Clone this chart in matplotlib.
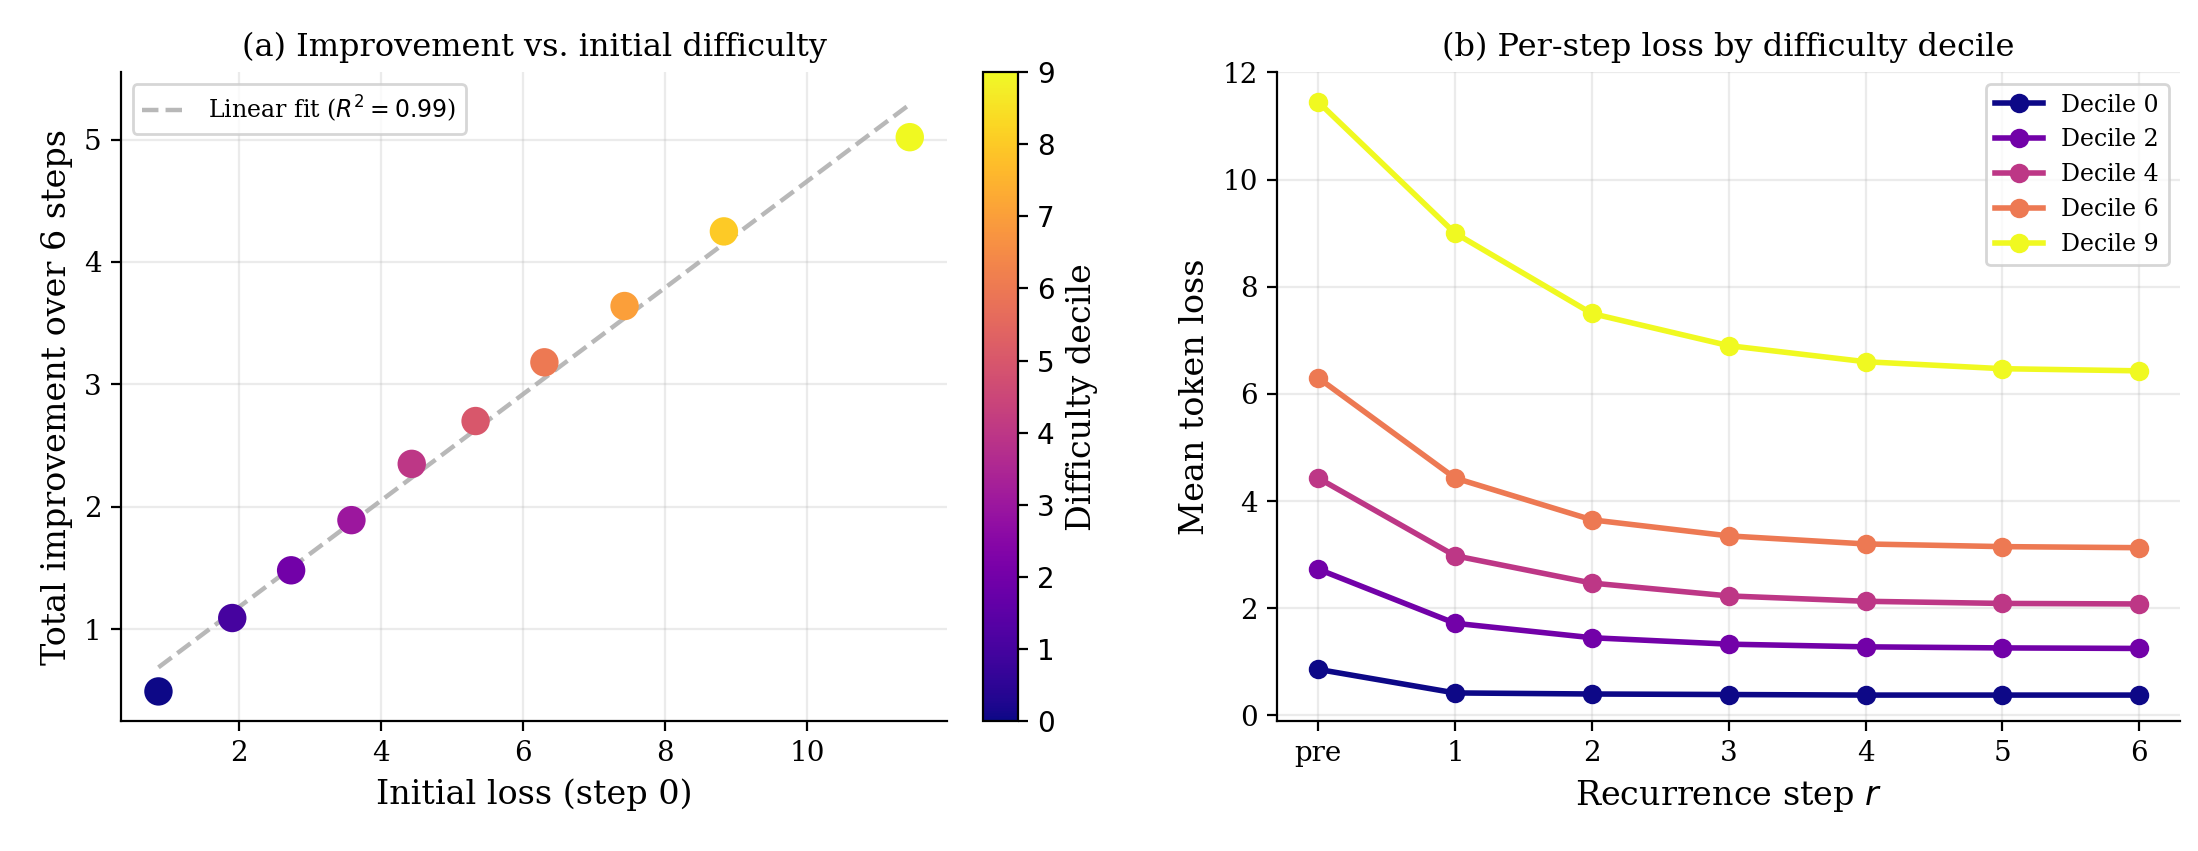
import matplotlib.pyplot as plt
import numpy as np

plt.rcParams['font.family'] = 'DejaVu Serif'
plt.rcParams['mathtext.fontset'] = 'dejavusans'
plt.rcParams['xtick.labelsize'] = 10
plt.rcParams['ytick.labelsize'] = 10

# (a) decile data
deciles = np.arange(10)
init_loss = [0.86, 1.90, 2.73, 3.58, 4.43, 5.33, 6.30, 7.43, 8.83, 11.45]
improvement = [0.49, 1.09, 1.48, 1.89, 2.35, 2.70, 3.18, 3.64, 4.25, 5.02]

# (b) per-step loss
steps = ['pre', '1', '2', '3', '4', '5', '6']
loss_by_decile = {
    0: [0.86, 0.42, 0.40, 0.39, 0.38, 0.38, 0.38],
    2: [2.73, 1.72, 1.45, 1.33, 1.28, 1.26, 1.25],
    4: [4.43, 2.98, 2.47, 2.23, 2.13, 2.09, 2.08],
    6: [6.30, 4.43, 3.65, 3.35, 3.20, 3.15, 3.13],
    9: [11.45, 9.00, 7.50, 6.90, 6.60, 6.47, 6.43],
}

fig = plt.figure(figsize=(10.99, 4.255), dpi=200)
ax1 = fig.add_axes([0.055, 0.153, 0.376, 0.762])
cax = fig.add_axes([0.447, 0.153, 0.016, 0.762])
ax2 = fig.add_axes([0.581, 0.153, 0.411, 0.762])
cmap = plt.get_cmap('plasma')

# Panel (a)
slope, icpt = np.polyfit(init_loss, improvement, 1)
xs = np.array([min(init_loss), max(init_loss)])
ax1.plot(xs, slope * xs + icpt, '--', color='#b8b8b8', lw=1.6, label=r'Linear fit ($R^2=0.99$)', zorder=1)
sc = ax1.scatter(init_loss, improvement, c=deciles, cmap=cmap, vmin=0, vmax=9, s=85, zorder=2)
cb = fig.colorbar(sc, cax=cax)
cb.set_label('Difficulty decile', fontsize=12)
cb.set_ticks(range(10))
for t in cb.ax.get_yticklabels():
    t.set_family('DejaVu Sans')
ax1.set_title('(a) Improvement vs. initial difficulty', fontsize=11.5)
ax1.set_xlabel('Initial loss (step 0)', fontsize=12)
ax1.set_ylabel('Total improvement over 6 steps', fontsize=12)
ax1.set_xticks([2, 4, 6, 8, 10])
ax1.set_yticks([1, 2, 3, 4, 5])
ax1.set_ylim(0.25, 5.55)
ax1.grid(True, alpha=0.25)
ax1.legend(loc='upper left', fontsize=8.5)

# Panel (b)
x = np.arange(len(steps))
for d, vals in loss_by_decile.items():
    ax2.plot(x, vals, '-o', color=cmap(d / 9), lw=2, ms=6, label=f'Decile {d}')
ax2.set_xticks(x)
ax2.set_xticklabels(steps)
ax2.set_yticks(range(0, 13, 2))
ax2.set_ylim(-0.1, 12)
ax2.set_title('(b) Per-step loss by difficulty decile', fontsize=11.5)
ax2.set_xlabel('Recurrence step $r$', fontsize=12)
ax2.set_ylabel('Mean token loss', fontsize=12)
ax2.grid(True, alpha=0.25)
ax2.legend(loc='upper right', fontsize=8.5)

for ax in (ax1, ax2):
    ax.spines['top'].set_visible(False)
    ax.spines['right'].set_visible(False)

plt.savefig('out.png', dpi=200)
